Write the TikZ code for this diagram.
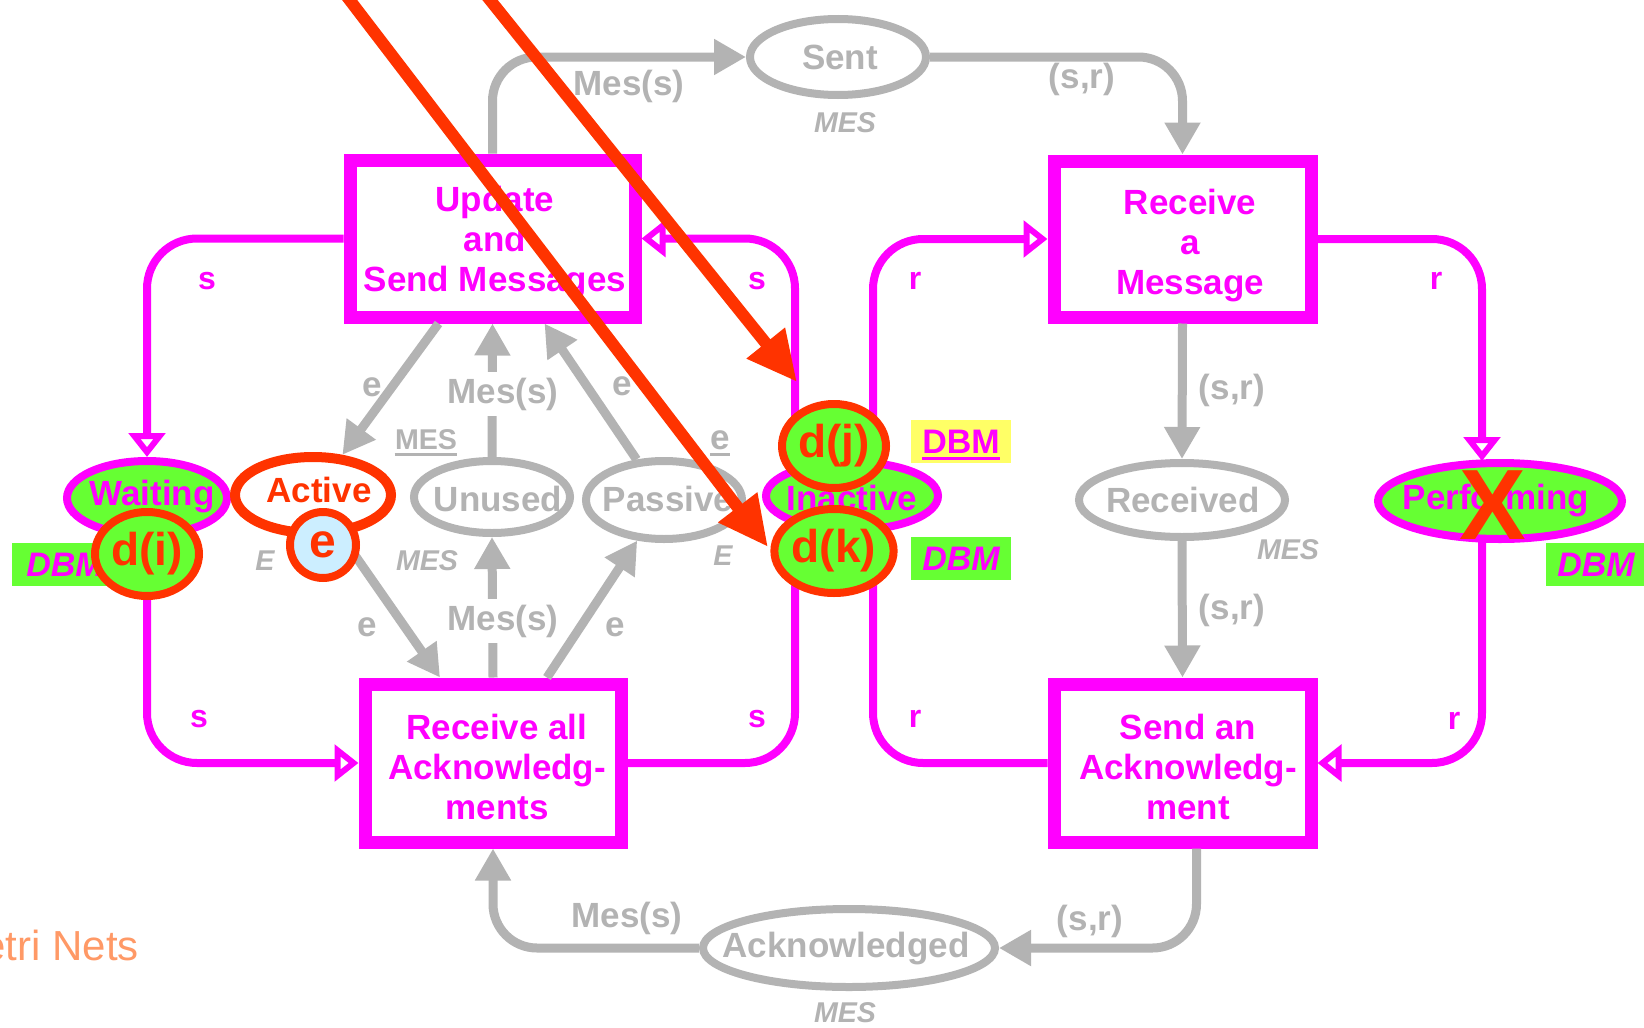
\documentclass[tikz,border=0pt]{standalone}
\usepackage{fontspec}
\setmainfont{Liberation Sans}
\usetikzlibrary{arrows.meta,shapes.geometric}
\definecolor{mag}{HTML}{FF00FF}
\definecolor{grn}{HTML}{66FF33}
\definecolor{gry}{HTML}{B3B3B3}
\definecolor{redo}{HTML}{FF3300}
\definecolor{yel}{HTML}{FFFF66}
\definecolor{lblue}{HTML}{CCEEFF}
\definecolor{orng}{HTML}{FF9966}

\begin{document}
\begin{tikzpicture}[x=0.5pt,y=-0.5pt,
  trans/.style={rectangle, draw=mag, line width=6.5pt, fill=white, inner sep=0pt},
  tlabel/.style={text=mag, font=\fontsize{17.5}{20}\selectfont\bfseries, align=center, inner sep=0pt},
  place/.style={ellipse, draw=gry, line width=4pt, fill=white, inner sep=0pt},
  dbmplace/.style={ellipse, draw=mag, line width=4pt, fill=grn, inner sep=0pt},
  token/.style={ellipse, draw=redo, line width=4pt, fill=grn, inner sep=0pt,
                minimum width=52pt, minimum height=42pt,
                text=redo, font=\fontsize{23}{26}\selectfont\bfseries},
  plabel/.style={font=\fontsize{17.5}{20}\selectfont\bfseries, inner sep=0pt},
  glbl/.style={text=gry, font=\fontsize{17.5}{20}\selectfont\bfseries, inner sep=0pt},
  mlbl/.style={text=mag, font=\fontsize{16}{18}\selectfont\bfseries, inner sep=0pt},
  itl/.style={text=gry, font=\fontsize{14.3}{16}\selectfont\bfseries\itshape, inner sep=0pt},
  ulbl/.style={text=gry, font=\fontsize{14.3}{16}\selectfont\bfseries, inner sep=0pt},
  dbmbox/.style={minimum width=50pt, minimum height=21.5pt, inner sep=0pt,
                 text=mag, font=\fontsize{17}{19}\selectfont\bfseries\itshape},
  garc/.style={draw=gry, line width=4.5pt, rounded corners=22pt,
               -{Triangle[length=16pt,width=17pt]}},
  marc/.style={draw=mag, line width=4pt, rounded corners=25pt,
               -{Triangle[open,length=12pt,width=18pt]}},
  rarc/.style={draw=redo, line width=6pt, -{Triangle[length=25pt,width=23pt]}}
]
\useasboundingbox (0,0) rectangle (1644,1028);
\fill[white] (0,0) rectangle (1644,1028);
\clip (0,0) rectangle (1644,1028);

% ---- transitions
\node[trans, minimum width=142.5pt, minimum height=78.5pt] (t1) at (492.5,238.5) {};
\node[trans, minimum width=128.5pt, minimum height=78pt] (t2) at (1182.5,239) {};
\node[trans, minimum width=128pt, minimum height=79pt] (t3) at (493,763) {};
\node[trans, minimum width=128.5pt, minimum height=79pt] (t4) at (1182.5,763) {};

% ---- places
\node[dbmplace, minimum width=80pt, minimum height=37pt] (waiting) at (147,498) {};
\node[ellipse, draw=redo, line width=5pt, fill=white, inner sep=0pt,
      minimum width=78pt, minimum height=38pt] (active) at (313,495) {};
\node[place, minimum width=78pt, minimum height=36pt] (unused) at (492,497) {};
\node[place, minimum width=78pt, minimum height=39pt] (passive) at (664,500) {};
\node[dbmplace, minimum width=86pt, minimum height=34pt] (inactive) at (852,496) {};
\node[place, minimum width=103pt, minimum height=37pt] (received) at (1182,500) {};
\node[dbmplace, minimum width=122pt, minimum height=38pt] (performing) at (1500,501) {};
\node[place, minimum width=88pt, minimum height=38pt] (sent) at (838,57) {};
\node[place, minimum width=146pt, minimum height=39pt] (ack) at (849,948) {};

% ---- free ends of the arcs at the DBM places
\coordinate (inTL) at (795,472);
\coordinate (inBL) at (795,524);
\coordinate (inTR) at (873,468);
\coordinate (inBR) at (873,528);
\coordinate (pfT) at (1482,461);
\coordinate (pfB) at (1482,541);

% ---- message arcs
\draw[garc] (t1.north) |- (sent.west);
\draw[garc] (sent.east) -| (t2.north);
\draw[garc] (t2.south) -- (received.north);
\draw[garc] (received.south) -- (t4.north);
\draw[garc] ([xshift=7pt]t4.south) |- (ack.east);
\draw[garc] (ack.west) -| (t3.south);
\draw[garc] ([xshift=-27pt]t1.south) -- (active);
\draw[garc] (unused.north) -- (t1.south);
\draw[garc] (passive) -- ([xshift=26pt]t1.south);
\draw[garc] (active) -- ([xshift=-26.5pt]t3.north);
\draw[garc] (t3.north) -- (unused.south);
\draw[garc] ([xshift=27pt]t3.north) -- (passive);

% ---- data base manager arcs
\draw[marc] (t1.west) -| (waiting.north);
\draw[marc] (waiting.south) |- (t3.west);
\draw[marc] (inTL) |- (t1.east);
\draw[marc] (t3.east) -| (inBL);
\draw[marc] (inTR) |- (t2.west);
\draw[marc] (t4.west) -| (inBR);
\draw[marc] (t2.east) -| (pfT);
\draw[marc] (pfB) |- (t4.east);

% ---- transition inscriptions
\node[tlabel] (t1l) at (495,243) {Update\\and\\Send Messages};
\node[tlabel] (t2l) at (1190,246) {Receive\\a\\Message};
\node[tlabel] (t3l) at (497,767) {Receive all\\Acknowledg-\\ments};
\node[tlabel] (t4l) at (1188,767) {Send an\\Acknowledg-\\ment};

% ---- place names
\node[plabel, text=mag] (waitingl) at (152,497) {Waiting};
\node[plabel, text=redo] (activel) at (319,490) {Active};
\node[plabel, text=gry] (unusedl) at (498,499) {Unused};
\node[plabel, text=gry] (passivel) at (668,499) {Passive};
\node[plabel, text=mag] (inactivel) at (852,498) {Inactive};
\node[plabel, text=gry] (receivedl) at (1183,500) {Received};
\node[plabel, text=mag] (performingl) at (1496,501) {Performing};
\node[plabel, text=gry] (sentl) at (840,57) {Sent};
\node[plabel, text=gry] (ackl) at (846,949) {Acknowledged};

% ---- colour sets and initial markings
\node[itl] (mes1) at (845,123) {MES};
\node[itl] (mes2) at (427,561) {MES};
\node[itl] (mes3) at (1288,550) {MES};
\node[itl] (mes4) at (845,1013) {MES};
\node[itl] (ee1) at (265,561) {E};
\node[itl] (ee2) at (723,556) {E};
\node[ulbl] (mesu) at (426,440) {MES};
\draw[gry, line width=1.5pt] ([yshift=-2.5pt]mesu.base west) -- ([yshift=-2.5pt]mesu.base east);
\node[ulbl, font=\fontsize{17.5}{20}\selectfont\bfseries] (eu) at (720,440) {e};
\draw[gry, line width=1.5pt] ([yshift=-2.5pt]eu.base west) -- ([yshift=-2.5pt]eu.base east);

% ---- arc inscriptions
\node[glbl] (a1) at (629,86) {Mes(s)};
\node[glbl] (a2) at (1082,79) {(s,r)};
\node[glbl] (a3) at (1232,390) {(s,r)};
\node[glbl] (a4) at (1232,610) {(s,r)};
\node[glbl] (a5) at (1090,921) {(s,r)};
\node[glbl] (a6) at (627,918) {Mes(s)};
\node[glbl] (a7) at (372,387) {e};
\node[glbl, fill=white, inner sep=3pt] (a8) at (503,394) {Mes(s)};
\node[glbl] (a9) at (622,386) {e};
\node[glbl] (a10) at (367,627) {e};
\node[glbl, fill=white, inner sep=3pt] (a11) at (503,621) {Mes(s)};
\node[glbl] (a12) at (615,627) {e};

\node[mlbl] (s1) at (207,281) {s};
\node[mlbl] (s2) at (199,719) {s};
\node[mlbl] (s3) at (757,281) {s};
\node[mlbl] (s4) at (757,719) {s};
\node[mlbl] (r1) at (915,281) {r};
\node[mlbl] (r2) at (915,719) {r};
\node[mlbl] (r3) at (1436,281) {r};
\node[mlbl] (r4) at (1454,721) {r};

% ---- DBM labels
\node[dbmbox, fill=grn, minimum width=53pt] (dbm1) at (65,564.5) {DBM};
\node[dbmbox, fill=yel] (dbm2) at (961,441.5) {};
\node[inner sep=0pt, text=mag, font=\fontsize{17}{19}\selectfont\bfseries] (dbm2t) at (961,441.5) {DBM};
\draw[mag, line width=1.5pt] ([yshift=-2.5pt]dbm2t.base west) -- ([yshift=-2.5pt]dbm2t.base east);
\node[dbmbox, fill=grn] (dbm3) at (961,558.5) {DBM};
\node[dbmbox, fill=grn] (dbm4) at (1596,564.5) {DBM};

% ---- tokens
\node[token] (di) at (147,554) {d(i)};
\node[token] (dj) at (834,446) {d(j)};
\node[token] (dk) at (834,551) {d(k)};
\node[circle, draw=redo, line width=4pt, fill=lblue, inner sep=0pt, minimum size=33pt,
      text=redo, font=\fontsize{24}{26}\selectfont\bfseries] (etok) at (323,545) {e};

% ---- crossed-out place
\node[text=redo, font=\fontsize{50}{50}\selectfont\bfseries, inner sep=0pt] (cross) at (1493,505) {X};

% ---- pointers
\coordinate (p1s) at (342,-10);
\coordinate (p1e) at (768,547);
\coordinate (p2s) at (482,-10);
\coordinate (p2e) at (797,382);
\draw[rarc] (p1s) -- (p1e);
\draw[rarc] (p2s) -- (p2e);

% ---- footer
\node[anchor=base west, inner sep=0pt, text=orng, font=\fontsize{21}{24}\selectfont] (footer) at (-46,960) {Petri Nets};
\end{tikzpicture}
\end{document}
